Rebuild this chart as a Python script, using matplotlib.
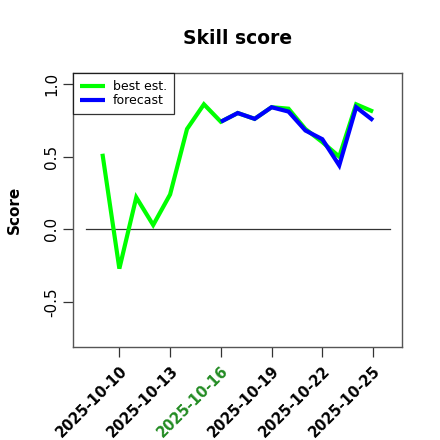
import datetime as dt
import matplotlib
matplotlib.use("Agg")
import matplotlib.pyplot as plt
import matplotlib.dates as mdates
import matplotlib.transforms as mtransforms

# Daily skill scores
best_dates = [dt.date(2025, 10, d) for d in range(9, 26)]
best_est = [0.52, -0.27, 0.22, 0.03, 0.24, 0.69, 0.86, 0.74, 0.80, 0.76,
            0.84, 0.83, 0.69, 0.60, 0.50, 0.86, 0.81]
fc_dates = [dt.date(2025, 10, d) for d in range(16, 26)]
forecast = [0.74, 0.80, 0.76, 0.84, 0.81, 0.68, 0.62, 0.44, 0.84, 0.75]

tick_dates = [dt.date(2025, 10, d) for d in (10, 13, 16, 19, 22, 25)]
tick_labels = [d.strftime("%Y-%m-%d") for d in tick_dates]
today_label = "2025-10-16"

ref_start, ref_end = dt.date(2025, 10, 8), dt.date(2025, 10, 26)

fig = plt.figure(figsize=(4.4, 4.4), dpi=100)
ax = fig.add_axes([0.1667, 0.212, 0.7473, 0.621])

ax.plot([ref_start, ref_end], [0, 0], color="#333333", lw=0.9)
ax.plot(best_dates, best_est, color="#00ff00", lw=3.0, label="best est.",
        solid_capstyle="butt", solid_joinstyle="miter")
ax.plot(fc_dates, forecast, color="#0000ff", lw=3.0, label="forecast",
        solid_capstyle="butt", solid_joinstyle="miter")

x0 = mdates.date2num(ref_start)
x1 = mdates.date2num(ref_end)
pad = 0.04 * (x1 - x0)
ax.set_xlim(x0 - pad, x1 + pad)
ax.set_ylim(-0.807, 1.072)

ax.set_xticks([mdates.date2num(d) for d in tick_dates])
ax.set_xticklabels(tick_labels, rotation=45, ha="right", va="top",
                   rotation_mode="anchor", fontweight="bold", fontsize=10.5)
shift = mtransforms.ScaledTranslation(-5 / 100, 0, fig.dpi_scale_trans)
for lab in ax.get_xticklabels():
    lab.set_transform(lab.get_transform() + shift)
    if lab.get_text() == today_label:
        lab.set_color("#228b22")

ax.set_yticks([-0.5, 0.0, 0.5, 1.0])
ax.set_yticklabels(["-0.5", "0.0", "0.5", "1.0"], rotation=90, va="center",
                   fontsize=11)
ax.tick_params(axis="both", direction="out", length=7, width=0.9,
               color="#333333")
ax.tick_params(axis="x", pad=5)
ax.tick_params(axis="y", pad=3)

for s in ax.spines.values():
    s.set_color("#555555")
    s.set_linewidth(1.0)

ax.set_title("Skill score", fontweight="bold", fontsize=13.5, pad=21)
ax.set_ylabel("Score", fontweight="bold", fontsize=11, labelpad=16)

leg = ax.legend(loc="upper left", fontsize=9, frameon=True, fancybox=False,
                borderaxespad=0, handlelength=2.0, handletextpad=0.6,
                borderpad=0.55, labelspacing=0.05)
leg.get_frame().set_edgecolor("black")
leg.get_frame().set_linewidth(0.9)

fig.savefig("out.png", dpi=100)
